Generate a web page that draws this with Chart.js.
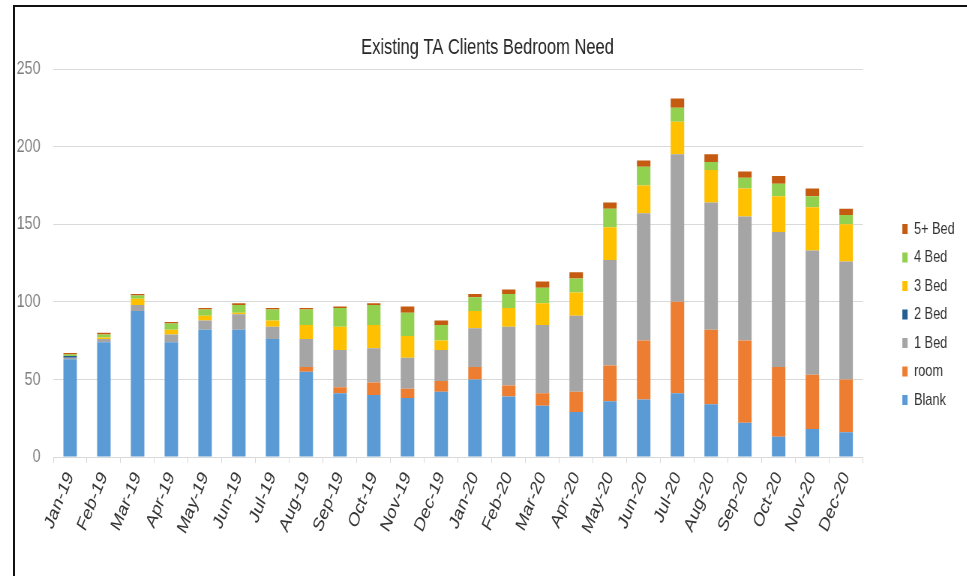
<!DOCTYPE html>
<html lang="en">
<head>
<meta charset="UTF-8">
<title>Existing TA Clients Bedroom Need</title>
<script src="https://cdn.jsdelivr.net/npm/chart.js"></script>
<style>
  body { margin: 0; background: #fff; }
  .marco { position: relative; width: 967px; height: 576px; overflow: hidden; background: #fff; }
  /* the reference chart is squeezed sideways, so the canvas is drawn wider and squeezed too */
  .marco canvas { position: absolute; left: 0; top: 0; transform: scaleX(0.75); transform-origin: 0 0; }
  .borde-sup { position: absolute; left: 13px; top: 5px; right: 0; height: 2px; background: #111; }
  .borde-izq { position: absolute; left: 13px; top: 5px; bottom: 0; width: 2px; background: #111; }
</style>
</head>
<body>
<div class="marco">
  <canvas id="grafica" width="1289" height="576"></canvas>
  <div class="borde-sup"></div>
  <div class="borde-izq"></div>
</div>
<script>
// --- data ---
const meses = ['Jan-19', 'Feb-19', 'Mar-19', 'Apr-19', 'May-19', 'Jun-19', 'Jul-19', 'Aug-19',
  'Sep-19', 'Oct-19', 'Nov-19', 'Dec-19', 'Jan-20', 'Feb-20', 'Mar-20', 'Apr-20',
  'May-20', 'Jun-20', 'Jul-20', 'Aug-20', 'Sep-20', 'Oct-20', 'Nov-20', 'Dec-20'];
const blank   = [63, 74, 94, 74, 82, 82, 76, 55, 41, 40, 38, 42, 50, 39, 33, 29, 36, 37, 41, 34, 22, 13, 18, 16];
const room    = [0, 0, 0, 0, 0, 0, 0, 3, 4, 8, 6, 7, 8, 7, 8, 13, 23, 38, 59, 48, 53, 45, 35, 34];
const bed1    = [1, 2, 4, 5, 6, 10, 8, 18, 24, 22, 20, 20, 25, 38, 44, 49, 68, 82, 95, 82, 80, 87, 80, 76];
const bed2    = [1, 0, 0, 0, 0, 0, 0, 0, 0, 0, 0, 0, 0, 0, 0, 0, 0, 0, 0, 0, 0, 0, 0, 0];
const bed3    = [0, 1, 4, 3, 3, 1, 4, 9, 15, 15, 14, 6, 11, 12, 14, 15, 21, 18, 21, 21, 18, 23, 28, 24];
const bed4    = [1, 2, 2, 4, 4, 5, 7, 10, 12, 13, 15, 10, 9, 9, 10, 9, 12, 12, 9, 5, 7, 8, 7, 6];
const bed5    = [1, 1, 1, 1, 1, 1, 1, 1, 1, 1, 4, 3, 2, 3, 4, 4, 4, 4, 6, 5, 4, 5, 5, 4];
const ticksY  = [0, 50, 100, 150, 200, 250];

const fuente = "'Liberation Sans', Arial, sans-serif";
Chart.defaults.font.family = fuente;

function serie(label, data, color) {
    return { label: label, data: data, backgroundColor: color, borderWidth: 0,
             barPercentage: 0.4, categoryPercentage: 1.0 };
}

new Chart(document.getElementById('grafica'), {
    type: 'bar',
    data: {
        labels: meses,
        datasets: [
            serie('Blank', blank, '#5B9BD5'),
            serie('room', room, '#ED7D31'),
            serie('1 Bed', bed1, '#A5A5A5'),
            serie('2 Bed', bed2, '#255E91'),
            serie('3 Bed', bed3, '#FFC000'),
            serie('4 Bed', bed4, '#92D050'),
            serie('5+ Bed', bed5, '#C55A11')
        ]
    },
    options: {
        responsive: false,
        animation: false,
        layout: { padding: { left: 17, right: 6, top: 0, bottom: 0 } },
        plugins: {
            title: {
                display: true,
                text: 'Existing TA Clients Bedroom Need',
                color: '#262626',
                font: { size: 22, weight: 'normal' },
                padding: { top: 35, bottom: 7.6 }
            },
            legend: {
                position: 'right',
                reverse: true,
                // empty title only pushes the items down to where they sit in the reference
                title: { display: true, text: '', font: { size: 10 }, padding: { top: 41, bottom: 0 } },
                labels: { boxWidth: 7, boxHeight: 10, padding: 11.5, color: '#333333',
                          font: { size: 17 } }
            },
            tooltip: { enabled: false }
        },
        scales: {
            x: {
                stacked: true,
                grid: { drawOnChartArea: false, color: '#d9d9d9', tickLength: 6 },
                border: { color: '#d9d9d9' },
                ticks: { autoSkip: false, minRotation: 62, maxRotation: 62, color: '#333333',
                         padding: 5, font: { size: 20 } },
                afterFit: s => { s.height = 119; }
            },
            y: {
                stacked: true,
                min: ticksY[0],
                max: ticksY[ticksY.length - 1],
                afterBuildTicks: s => { s.ticks = ticksY.map(v => ({ value: v })); },
                grid: { color: '#d9d9d9', drawTicks: false },
                border: { display: false },
                ticks: { color: '#7f7f7f', padding: 17, font: { size: 19 } },
                afterFit: s => { s.width = 54; }
            },
            // blank space between plot and legend
            hueco: {
                type: 'linear',
                position: 'right',
                display: true,
                grid: { display: false },
                border: { display: false },
                ticks: { display: false },
                afterFit: s => { s.width = 41; }
            }
        }
    }
});
</script>
</body>
</html>
